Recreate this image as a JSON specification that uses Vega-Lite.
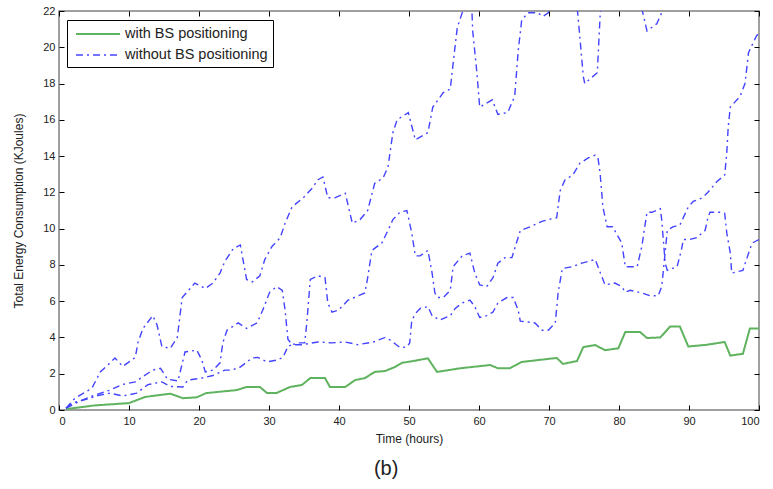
{
  "$schema": "https://vega.github.io/schema/vega-lite/v6.json",
  "width": 700,
  "height": 399,
  "autosize": {"type": "none"},
  "padding": {"left": 59, "top": 11, "right": 14, "bottom": 79},
  "background": "white",
  "config": {
    "view": {"stroke": "#808080", "strokeWidth": 1.5},
    "font": "Liberation Sans",
    "axis": {"grid": false, "domain": false, "tickColor": "#000", "tickSize": -5, "tickWidth": 1, "labelColor": "#222", "labelFontSize": 11, "titleColor": "#222", "titleFontWeight": "normal", "titleFontSize": 12}
  },
  "title": {"text": "(b)", "orient": "bottom", "fontSize": 20, "fontWeight": "normal", "color": "#222", "offset": 15, "frame": "bounds", "anchor": "middle"},
  "data": {"values": [
    {"t":1,"v":0.05,"s":"with BS positioning","r":"g"},
    {"t":5,"v":0.25,"s":"with BS positioning","r":"g"},
    {"t":10,"v":0.38,"s":"with BS positioning","r":"g"},
    {"t":12.3,"v":0.72,"s":"with BS positioning","r":"g"},
    {"t":15.9,"v":0.9,"s":"with BS positioning","r":"g"},
    {"t":17.7,"v":0.65,"s":"with BS positioning","r":"g"},
    {"t":19.7,"v":0.7,"s":"with BS positioning","r":"g"},
    {"t":21,"v":0.93,"s":"with BS positioning","r":"g"},
    {"t":25.4,"v":1.1,"s":"with BS positioning","r":"g"},
    {"t":26.8,"v":1.27,"s":"with BS positioning","r":"g"},
    {"t":28.7,"v":1.27,"s":"with BS positioning","r":"g"},
    {"t":29.7,"v":0.94,"s":"with BS positioning","r":"g"},
    {"t":31.1,"v":0.94,"s":"with BS positioning","r":"g"},
    {"t":33,"v":1.27,"s":"with BS positioning","r":"g"},
    {"t":34.7,"v":1.38,"s":"with BS positioning","r":"g"},
    {"t":35.9,"v":1.76,"s":"with BS positioning","r":"g"},
    {"t":38,"v":1.76,"s":"with BS positioning","r":"g"},
    {"t":38.7,"v":1.27,"s":"with BS positioning","r":"g"},
    {"t":40.9,"v":1.27,"s":"with BS positioning","r":"g"},
    {"t":42.3,"v":1.65,"s":"with BS positioning","r":"g"},
    {"t":43.7,"v":1.76,"s":"with BS positioning","r":"g"},
    {"t":45.1,"v":2.1,"s":"with BS positioning","r":"g"},
    {"t":46.6,"v":2.15,"s":"with BS positioning","r":"g"},
    {"t":48,"v":2.37,"s":"with BS positioning","r":"g"},
    {"t":49,"v":2.6,"s":"with BS positioning","r":"g"},
    {"t":50.6,"v":2.7,"s":"with BS positioning","r":"g"},
    {"t":52.7,"v":2.85,"s":"with BS positioning","r":"g"},
    {"t":54,"v":2.1,"s":"with BS positioning","r":"g"},
    {"t":57.3,"v":2.3,"s":"with BS positioning","r":"g"},
    {"t":61.6,"v":2.48,"s":"with BS positioning","r":"g"},
    {"t":62.7,"v":2.3,"s":"with BS positioning","r":"g"},
    {"t":64.4,"v":2.3,"s":"with BS positioning","r":"g"},
    {"t":66.1,"v":2.65,"s":"with BS positioning","r":"g"},
    {"t":71.1,"v":2.87,"s":"with BS positioning","r":"g"},
    {"t":72,"v":2.54,"s":"with BS positioning","r":"g"},
    {"t":74,"v":2.7,"s":"with BS positioning","r":"g"},
    {"t":74.9,"v":3.47,"s":"with BS positioning","r":"g"},
    {"t":76.6,"v":3.58,"s":"with BS positioning","r":"g"},
    {"t":78,"v":3.3,"s":"with BS positioning","r":"g"},
    {"t":79.9,"v":3.4,"s":"with BS positioning","r":"g"},
    {"t":80.9,"v":4.3,"s":"with BS positioning","r":"g"},
    {"t":83,"v":4.3,"s":"with BS positioning","r":"g"},
    {"t":84,"v":3.97,"s":"with BS positioning","r":"g"},
    {"t":85.9,"v":4.0,"s":"with BS positioning","r":"g"},
    {"t":87.3,"v":4.6,"s":"with BS positioning","r":"g"},
    {"t":88.7,"v":4.6,"s":"with BS positioning","r":"g"},
    {"t":89.9,"v":3.5,"s":"with BS positioning","r":"g"},
    {"t":92.6,"v":3.6,"s":"with BS positioning","r":"g"},
    {"t":95.1,"v":3.75,"s":"with BS positioning","r":"g"},
    {"t":95.9,"v":3.0,"s":"with BS positioning","r":"g"},
    {"t":97.7,"v":3.1,"s":"with BS positioning","r":"g"},
    {"t":98.7,"v":4.5,"s":"with BS positioning","r":"g"},
    {"t":100,"v":4.5,"s":"with BS positioning","r":"g"},

    {"t":1,"v":0.1,"s":"without BS positioning","r":"a"},
    {"t":2.3,"v":0.66,"s":"without BS positioning","r":"a"},
    {"t":4.7,"v":1.2,"s":"without BS positioning","r":"a"},
    {"t":5.1,"v":1.5,"s":"without BS positioning","r":"a"},
    {"t":5.9,"v":2.1,"s":"without BS positioning","r":"a"},
    {"t":7.3,"v":2.6,"s":"without BS positioning","r":"a"},
    {"t":8,"v":2.87,"s":"without BS positioning","r":"a"},
    {"t":9.1,"v":2.4,"s":"without BS positioning","r":"a"},
    {"t":10.9,"v":2.9,"s":"without BS positioning","r":"a"},
    {"t":11.3,"v":3.75,"s":"without BS positioning","r":"a"},
    {"t":12,"v":4.5,"s":"without BS positioning","r":"a"},
    {"t":13.4,"v":5.2,"s":"without BS positioning","r":"a"},
    {"t":14,"v":4.7,"s":"without BS positioning","r":"a"},
    {"t":14.7,"v":3.5,"s":"without BS positioning","r":"a"},
    {"t":15.9,"v":3.4,"s":"without BS positioning","r":"a"},
    {"t":16.9,"v":4.0,"s":"without BS positioning","r":"a"},
    {"t":17.6,"v":6.2,"s":"without BS positioning","r":"a"},
    {"t":19.4,"v":7.0,"s":"without BS positioning","r":"a"},
    {"t":20.9,"v":6.7,"s":"without BS positioning","r":"a"},
    {"t":22,"v":7.0,"s":"without BS positioning","r":"a"},
    {"t":23,"v":7.55,"s":"without BS positioning","r":"a"},
    {"t":23.7,"v":8.2,"s":"without BS positioning","r":"a"},
    {"t":24.9,"v":8.9,"s":"without BS positioning","r":"a"},
    {"t":25.9,"v":9.1,"s":"without BS positioning","r":"a"},
    {"t":26.8,"v":7.2,"s":"without BS positioning","r":"a"},
    {"t":27.6,"v":7.06,"s":"without BS positioning","r":"a"},
    {"t":28.7,"v":7.4,"s":"without BS positioning","r":"a"},
    {"t":29.4,"v":8.3,"s":"without BS positioning","r":"a"},
    {"t":30.4,"v":9.0,"s":"without BS positioning","r":"a"},
    {"t":31.6,"v":9.5,"s":"without BS positioning","r":"a"},
    {"t":32.3,"v":10.3,"s":"without BS positioning","r":"a"},
    {"t":33.3,"v":11.2,"s":"without BS positioning","r":"a"},
    {"t":34.9,"v":11.7,"s":"without BS positioning","r":"a"},
    {"t":36.1,"v":12.2,"s":"without BS positioning","r":"a"},
    {"t":37,"v":12.7,"s":"without BS positioning","r":"a"},
    {"t":37.7,"v":12.85,"s":"without BS positioning","r":"a"},
    {"t":38.4,"v":11.7,"s":"without BS positioning","r":"a"},
    {"t":39.4,"v":11.7,"s":"without BS positioning","r":"a"},
    {"t":40.9,"v":11.95,"s":"without BS positioning","r":"a"},
    {"t":41.9,"v":10.3,"s":"without BS positioning","r":"a"},
    {"t":43,"v":10.5,"s":"without BS positioning","r":"a"},
    {"t":44.1,"v":11,"s":"without BS positioning","r":"a"},
    {"t":45.1,"v":12.5,"s":"without BS positioning","r":"a"},
    {"t":46.3,"v":12.8,"s":"without BS positioning","r":"a"},
    {"t":47,"v":13.4,"s":"without BS positioning","r":"a"},
    {"t":47.7,"v":15.3,"s":"without BS positioning","r":"a"},
    {"t":48.3,"v":16,"s":"without BS positioning","r":"a"},
    {"t":49.9,"v":16.4,"s":"without BS positioning","r":"a"},
    {"t":50.9,"v":14.9,"s":"without BS positioning","r":"a"},
    {"t":52.7,"v":15.3,"s":"without BS positioning","r":"a"},
    {"t":53.4,"v":16.7,"s":"without BS positioning","r":"a"},
    {"t":54.9,"v":17.5,"s":"without BS positioning","r":"a"},
    {"t":55.9,"v":17.7,"s":"without BS positioning","r":"a"},
    {"t":56.3,"v":19.1,"s":"without BS positioning","r":"a"},
    {"t":56.9,"v":21.1,"s":"without BS positioning","r":"a"},
    {"t":57.6,"v":21.9,"s":"without BS positioning","r":"a"},
    {"t":58.3,"v":22.6,"s":"without BS positioning","r":"a"},
    {"t":59,"v":21.9,"s":"without BS positioning","r":"a"},
    {"t":59.1,"v":20.9,"s":"without BS positioning","r":"a"},
    {"t":59.7,"v":18.6,"s":"without BS positioning","r":"a"},
    {"t":60.1,"v":16.7,"s":"without BS positioning","r":"a"},
    {"t":61.9,"v":17.1,"s":"without BS positioning","r":"a"},
    {"t":62.7,"v":16.3,"s":"without BS positioning","r":"a"},
    {"t":64.1,"v":16.4,"s":"without BS positioning","r":"a"},
    {"t":65.1,"v":17.3,"s":"without BS positioning","r":"a"},
    {"t":65.6,"v":19.8,"s":"without BS positioning","r":"a"},
    {"t":66.1,"v":21.5,"s":"without BS positioning","r":"a"},
    {"t":67,"v":21.9,"s":"without BS positioning","r":"a"},
    {"t":68.4,"v":21.9,"s":"without BS positioning","r":"a"},
    {"t":69.1,"v":21.7,"s":"without BS positioning","r":"a"},
    {"t":69.9,"v":21.9,"s":"without BS positioning","r":"a"},
    {"t":70.5,"v":23.5,"s":"without BS positioning","r":"a"},
    {"t":72,"v":24.5,"s":"without BS positioning","r":"a"},
    {"t":73.5,"v":23.5,"s":"without BS positioning","r":"a"},
    {"t":74.1,"v":21.9,"s":"without BS positioning","r":"a"},
    {"t":74.9,"v":18.4,"s":"without BS positioning","r":"a"},
    {"t":75.1,"v":18,"s":"without BS positioning","r":"a"},
    {"t":76.9,"v":18.6,"s":"without BS positioning","r":"a"},
    {"t":77.3,"v":21.7,"s":"without BS positioning","r":"a"},
    {"t":77.8,"v":23,"s":"without BS positioning","r":"a"},
    {"t":80,"v":24,"s":"without BS positioning","r":"a"},
    {"t":82.8,"v":23,"s":"without BS positioning","r":"a"},
    {"t":83.4,"v":21.9,"s":"without BS positioning","r":"a"},
    {"t":84,"v":20.9,"s":"without BS positioning","r":"a"},
    {"t":85.4,"v":21.3,"s":"without BS positioning","r":"a"},
    {"t":86.1,"v":21.9,"s":"without BS positioning","r":"a"},
    {"t":86.6,"v":23,"s":"without BS positioning","r":"a"},
    {"t":90,"v":25,"s":"without BS positioning","r":"a"},
    {"t":95,"v":26,"s":"without BS positioning","r":"a"},
    {"t":100,"v":27,"s":"without BS positioning","r":"a"},

    {"t":1,"v":0.1,"s":"without BS positioning","r":"b"},
    {"t":3.3,"v":0.55,"s":"without BS positioning","r":"b"},
    {"t":5,"v":0.8,"s":"without BS positioning","r":"b"},
    {"t":7.3,"v":1.1,"s":"without BS positioning","r":"b"},
    {"t":9,"v":1.4,"s":"without BS positioning","r":"b"},
    {"t":10.9,"v":1.55,"s":"without BS positioning","r":"b"},
    {"t":12.6,"v":2.0,"s":"without BS positioning","r":"b"},
    {"t":13.4,"v":2.2,"s":"without BS positioning","r":"b"},
    {"t":14.5,"v":2.3,"s":"without BS positioning","r":"b"},
    {"t":15.5,"v":1.7,"s":"without BS positioning","r":"b"},
    {"t":17,"v":1.6,"s":"without BS positioning","r":"b"},
    {"t":18,"v":3.2,"s":"without BS positioning","r":"b"},
    {"t":19.7,"v":3.3,"s":"without BS positioning","r":"b"},
    {"t":20.4,"v":2.75,"s":"without BS positioning","r":"b"},
    {"t":20.9,"v":2.1,"s":"without BS positioning","r":"b"},
    {"t":22,"v":2.2,"s":"without BS positioning","r":"b"},
    {"t":23,"v":2.6,"s":"without BS positioning","r":"b"},
    {"t":23.4,"v":3.7,"s":"without BS positioning","r":"b"},
    {"t":24,"v":4.4,"s":"without BS positioning","r":"b"},
    {"t":25.6,"v":4.8,"s":"without BS positioning","r":"b"},
    {"t":26.8,"v":4.5,"s":"without BS positioning","r":"b"},
    {"t":28.3,"v":4.8,"s":"without BS positioning","r":"b"},
    {"t":29.1,"v":5.5,"s":"without BS positioning","r":"b"},
    {"t":30.1,"v":6.5,"s":"without BS positioning","r":"b"},
    {"t":31.1,"v":6.8,"s":"without BS positioning","r":"b"},
    {"t":31.9,"v":6.6,"s":"without BS positioning","r":"b"},
    {"t":32.3,"v":5.5,"s":"without BS positioning","r":"b"},
    {"t":32.7,"v":3.9,"s":"without BS positioning","r":"b"},
    {"t":33.3,"v":3.6,"s":"without BS positioning","r":"b"},
    {"t":34.1,"v":3.7,"s":"without BS positioning","r":"b"},
    {"t":35.1,"v":3.7,"s":"without BS positioning","r":"b"},
    {"t":35.4,"v":4.8,"s":"without BS positioning","r":"b"},
    {"t":35.9,"v":7.2,"s":"without BS positioning","r":"b"},
    {"t":37,"v":7.4,"s":"without BS positioning","r":"b"},
    {"t":38,"v":7.3,"s":"without BS positioning","r":"b"},
    {"t":38.4,"v":5.9,"s":"without BS positioning","r":"b"},
    {"t":39,"v":5.4,"s":"without BS positioning","r":"b"},
    {"t":39.9,"v":5.5,"s":"without BS positioning","r":"b"},
    {"t":41.3,"v":6.06,"s":"without BS positioning","r":"b"},
    {"t":43.7,"v":6.45,"s":"without BS positioning","r":"b"},
    {"t":44.1,"v":7.3,"s":"without BS positioning","r":"b"},
    {"t":44.7,"v":8.8,"s":"without BS positioning","r":"b"},
    {"t":46.1,"v":9.2,"s":"without BS positioning","r":"b"},
    {"t":47,"v":9.9,"s":"without BS positioning","r":"b"},
    {"t":47.7,"v":10.5,"s":"without BS positioning","r":"b"},
    {"t":48.7,"v":10.9,"s":"without BS positioning","r":"b"},
    {"t":49.7,"v":11.0,"s":"without BS positioning","r":"b"},
    {"t":50.4,"v":9.75,"s":"without BS positioning","r":"b"},
    {"t":50.9,"v":8.5,"s":"without BS positioning","r":"b"},
    {"t":51.6,"v":8.5,"s":"without BS positioning","r":"b"},
    {"t":52.7,"v":8.8,"s":"without BS positioning","r":"b"},
    {"t":53.3,"v":7.55,"s":"without BS positioning","r":"b"},
    {"t":53.7,"v":6.45,"s":"without BS positioning","r":"b"},
    {"t":54.1,"v":6.2,"s":"without BS positioning","r":"b"},
    {"t":54.9,"v":6.2,"s":"without BS positioning","r":"b"},
    {"t":55.9,"v":6.6,"s":"without BS positioning","r":"b"},
    {"t":56.3,"v":7.9,"s":"without BS positioning","r":"b"},
    {"t":57.6,"v":8.5,"s":"without BS positioning","r":"b"},
    {"t":58.7,"v":8.65,"s":"without BS positioning","r":"b"},
    {"t":59.4,"v":7.55,"s":"without BS positioning","r":"b"},
    {"t":60.1,"v":6.9,"s":"without BS positioning","r":"b"},
    {"t":61.1,"v":6.8,"s":"without BS positioning","r":"b"},
    {"t":62,"v":7.3,"s":"without BS positioning","r":"b"},
    {"t":62.7,"v":8.1,"s":"without BS positioning","r":"b"},
    {"t":63.7,"v":8.4,"s":"without BS positioning","r":"b"},
    {"t":64.7,"v":8.4,"s":"without BS positioning","r":"b"},
    {"t":65.1,"v":8.9,"s":"without BS positioning","r":"b"},
    {"t":65.9,"v":9.9,"s":"without BS positioning","r":"b"},
    {"t":67.3,"v":10.1,"s":"without BS positioning","r":"b"},
    {"t":69,"v":10.4,"s":"without BS positioning","r":"b"},
    {"t":69.9,"v":10.5,"s":"without BS positioning","r":"b"},
    {"t":71.1,"v":10.6,"s":"without BS positioning","r":"b"},
    {"t":71.6,"v":12.1,"s":"without BS positioning","r":"b"},
    {"t":72.3,"v":12.7,"s":"without BS positioning","r":"b"},
    {"t":73.4,"v":12.95,"s":"without BS positioning","r":"b"},
    {"t":74.4,"v":13.6,"s":"without BS positioning","r":"b"},
    {"t":75.6,"v":13.9,"s":"without BS positioning","r":"b"},
    {"t":76.6,"v":14.05,"s":"without BS positioning","r":"b"},
    {"t":77,"v":13.9,"s":"without BS positioning","r":"b"},
    {"t":77.3,"v":13.05,"s":"without BS positioning","r":"b"},
    {"t":77.7,"v":11.2,"s":"without BS positioning","r":"b"},
    {"t":78.3,"v":10.1,"s":"without BS positioning","r":"b"},
    {"t":79.1,"v":10.1,"s":"without BS positioning","r":"b"},
    {"t":80.4,"v":9.2,"s":"without BS positioning","r":"b"},
    {"t":80.9,"v":7.9,"s":"without BS positioning","r":"b"},
    {"t":82.6,"v":7.9,"s":"without BS positioning","r":"b"},
    {"t":83.3,"v":9.1,"s":"without BS positioning","r":"b"},
    {"t":83.6,"v":9.9,"s":"without BS positioning","r":"b"},
    {"t":84,"v":10.9,"s":"without BS positioning","r":"b"},
    {"t":84.7,"v":10.9,"s":"without BS positioning","r":"b"},
    {"t":85.9,"v":11.1,"s":"without BS positioning","r":"b"},
    {"t":86.1,"v":10.5,"s":"without BS positioning","r":"b"},
    {"t":86.6,"v":8.1,"s":"without BS positioning","r":"b"},
    {"t":86.9,"v":7.7,"s":"without BS positioning","r":"b"},
    {"t":88.3,"v":7.9,"s":"without BS positioning","r":"b"},
    {"t":88.9,"v":8.8,"s":"without BS positioning","r":"b"},
    {"t":89.2,"v":9.4,"s":"without BS positioning","r":"b"},
    {"t":90.1,"v":9.4,"s":"without BS positioning","r":"b"},
    {"t":91.1,"v":9.5,"s":"without BS positioning","r":"b"},
    {"t":92.3,"v":9.9,"s":"without BS positioning","r":"b"},
    {"t":92.7,"v":10.6,"s":"without BS positioning","r":"b"},
    {"t":93,"v":10.9,"s":"without BS positioning","r":"b"},
    {"t":94.4,"v":10.9,"s":"without BS positioning","r":"b"},
    {"t":95.1,"v":10.85,"s":"without BS positioning","r":"b"},
    {"t":95.4,"v":9.75,"s":"without BS positioning","r":"b"},
    {"t":95.9,"v":8.65,"s":"without BS positioning","r":"b"},
    {"t":96.1,"v":7.55,"s":"without BS positioning","r":"b"},
    {"t":97.7,"v":7.7,"s":"without BS positioning","r":"b"},
    {"t":98.3,"v":8.4,"s":"without BS positioning","r":"b"},
    {"t":99,"v":9.2,"s":"without BS positioning","r":"b"},
    {"t":100,"v":9.4,"s":"without BS positioning","r":"b"},

    {"t":1,"v":0.1,"s":"without BS positioning","r":"c"},
    {"t":2,"v":0.4,"s":"without BS positioning","r":"c"},
    {"t":4,"v":0.6,"s":"without BS positioning","r":"c"},
    {"t":5.6,"v":0.8,"s":"without BS positioning","r":"c"},
    {"t":7.3,"v":0.93,"s":"without BS positioning","r":"c"},
    {"t":9.1,"v":0.77,"s":"without BS positioning","r":"c"},
    {"t":11.1,"v":0.93,"s":"without BS positioning","r":"c"},
    {"t":12.7,"v":1.4,"s":"without BS positioning","r":"c"},
    {"t":14.7,"v":1.55,"s":"without BS positioning","r":"c"},
    {"t":15.9,"v":1.3,"s":"without BS positioning","r":"c"},
    {"t":17.7,"v":1.27,"s":"without BS positioning","r":"c"},
    {"t":18.4,"v":1.65,"s":"without BS positioning","r":"c"},
    {"t":20.4,"v":1.76,"s":"without BS positioning","r":"c"},
    {"t":22,"v":1.9,"s":"without BS positioning","r":"c"},
    {"t":23.7,"v":2.2,"s":"without BS positioning","r":"c"},
    {"t":24.7,"v":2.2,"s":"without BS positioning","r":"c"},
    {"t":25.9,"v":2.37,"s":"without BS positioning","r":"c"},
    {"t":27.6,"v":2.87,"s":"without BS positioning","r":"c"},
    {"t":28.4,"v":2.9,"s":"without BS positioning","r":"c"},
    {"t":29.7,"v":2.65,"s":"without BS positioning","r":"c"},
    {"t":31.1,"v":2.75,"s":"without BS positioning","r":"c"},
    {"t":32,"v":2.9,"s":"without BS positioning","r":"c"},
    {"t":32.7,"v":3.5,"s":"without BS positioning","r":"c"},
    {"t":33.3,"v":3.6,"s":"without BS positioning","r":"c"},
    {"t":34.7,"v":3.6,"s":"without BS positioning","r":"c"},
    {"t":37,"v":3.75,"s":"without BS positioning","r":"c"},
    {"t":39,"v":3.7,"s":"without BS positioning","r":"c"},
    {"t":40.9,"v":3.75,"s":"without BS positioning","r":"c"},
    {"t":42.7,"v":3.6,"s":"without BS positioning","r":"c"},
    {"t":44.9,"v":3.75,"s":"without BS positioning","r":"c"},
    {"t":46.6,"v":4.0,"s":"without BS positioning","r":"c"},
    {"t":47.3,"v":3.86,"s":"without BS positioning","r":"c"},
    {"t":48.7,"v":3.45,"s":"without BS positioning","r":"c"},
    {"t":49.7,"v":3.47,"s":"without BS positioning","r":"c"},
    {"t":50.1,"v":3.7,"s":"without BS positioning","r":"c"},
    {"t":50.4,"v":4.96,"s":"without BS positioning","r":"c"},
    {"t":51.1,"v":5.4,"s":"without BS positioning","r":"c"},
    {"t":51.6,"v":5.6,"s":"without BS positioning","r":"c"},
    {"t":52.7,"v":5.7,"s":"without BS positioning","r":"c"},
    {"t":53.3,"v":5.2,"s":"without BS positioning","r":"c"},
    {"t":54.4,"v":4.96,"s":"without BS positioning","r":"c"},
    {"t":55.9,"v":5.2,"s":"without BS positioning","r":"c"},
    {"t":56.6,"v":5.6,"s":"without BS positioning","r":"c"},
    {"t":57.6,"v":5.9,"s":"without BS positioning","r":"c"},
    {"t":58.7,"v":6.06,"s":"without BS positioning","r":"c"},
    {"t":59.4,"v":5.7,"s":"without BS positioning","r":"c"},
    {"t":60.1,"v":5.1,"s":"without BS positioning","r":"c"},
    {"t":61.1,"v":5.2,"s":"without BS positioning","r":"c"},
    {"t":62,"v":5.4,"s":"without BS positioning","r":"c"},
    {"t":62.7,"v":5.9,"s":"without BS positioning","r":"c"},
    {"t":64,"v":6.2,"s":"without BS positioning","r":"c"},
    {"t":64.9,"v":6.2,"s":"without BS positioning","r":"c"},
    {"t":65.6,"v":5.5,"s":"without BS positioning","r":"c"},
    {"t":65.9,"v":4.9,"s":"without BS positioning","r":"c"},
    {"t":68,"v":4.8,"s":"without BS positioning","r":"c"},
    {"t":69,"v":4.4,"s":"without BS positioning","r":"c"},
    {"t":69.9,"v":4.4,"s":"without BS positioning","r":"c"},
    {"t":70.9,"v":4.8,"s":"without BS positioning","r":"c"},
    {"t":71.3,"v":6.45,"s":"without BS positioning","r":"c"},
    {"t":71.9,"v":7.8,"s":"without BS positioning","r":"c"},
    {"t":73.3,"v":7.9,"s":"without BS positioning","r":"c"},
    {"t":74.7,"v":8.1,"s":"without BS positioning","r":"c"},
    {"t":76.6,"v":8.3,"s":"without BS positioning","r":"c"},
    {"t":77,"v":7.9,"s":"without BS positioning","r":"c"},
    {"t":77.6,"v":7.3,"s":"without BS positioning","r":"c"},
    {"t":78,"v":6.9,"s":"without BS positioning","r":"c"},
    {"t":79.4,"v":7.0,"s":"without BS positioning","r":"c"},
    {"t":80.4,"v":6.8,"s":"without BS positioning","r":"c"},
    {"t":80.9,"v":6.5,"s":"without BS positioning","r":"c"},
    {"t":81.6,"v":6.6,"s":"without BS positioning","r":"c"},
    {"t":83.3,"v":6.45,"s":"without BS positioning","r":"c"},
    {"t":84.4,"v":6.3,"s":"without BS positioning","r":"c"},
    {"t":85.6,"v":6.3,"s":"without BS positioning","r":"c"},
    {"t":86.1,"v":6.8,"s":"without BS positioning","r":"c"},
    {"t":86.3,"v":7.55,"s":"without BS positioning","r":"c"},
    {"t":86.9,"v":9.9,"s":"without BS positioning","r":"c"},
    {"t":87.7,"v":10.1,"s":"without BS positioning","r":"c"},
    {"t":88.7,"v":10.2,"s":"without BS positioning","r":"c"},
    {"t":89.9,"v":11.2,"s":"without BS positioning","r":"c"},
    {"t":90.6,"v":11.5,"s":"without BS positioning","r":"c"},
    {"t":91.9,"v":11.7,"s":"without BS positioning","r":"c"},
    {"t":92.7,"v":12.0,"s":"without BS positioning","r":"c"},
    {"t":94,"v":12.6,"s":"without BS positioning","r":"c"},
    {"t":95.1,"v":12.95,"s":"without BS positioning","r":"c"},
    {"t":95.4,"v":14.2,"s":"without BS positioning","r":"c"},
    {"t":95.6,"v":15.6,"s":"without BS positioning","r":"c"},
    {"t":95.9,"v":16.7,"s":"without BS positioning","r":"c"},
    {"t":97.3,"v":17.3,"s":"without BS positioning","r":"c"},
    {"t":98,"v":18,"s":"without BS positioning","r":"c"},
    {"t":98.5,"v":19.7,"s":"without BS positioning","r":"c"},
    {"t":99.6,"v":20.6,"s":"without BS positioning","r":"c"},
    {"t":100,"v":20.8,"s":"without BS positioning","r":"c"}
  ]},
  "layer": [
    {
      "mark": {"type": "line", "clip": true},
      "encoding": {
        "x": {"field": "t", "type": "quantitative", "scale": {"domain": [0, 100], "nice": false},
              "axis": {"orient": "bottom", "values": [0,10,20,30,40,50,60,70,80,90,100], "labelPadding": 10, "title": "Time (hours)", "titlePadding": 7}},
        "y": {"field": "v", "type": "quantitative", "scale": {"domain": [0, 22], "nice": false},
              "axis": {"orient": "left", "values": [0,2,4,6,8,10,12,14,16,18,20,22], "labelPadding": 9, "title": "Total Energy Consumption (KJoules)", "titlePadding": 17}},
        "color": {"field": "s", "type": "nominal",
                  "scale": {"domain": ["with BS positioning", "without BS positioning"], "range": ["#5fb35f", "#4444ff"]},
                  "legend": {"orient": "none", "legendX": 8, "legendY": 9, "title": null, "strokeColor": "#000", "fillColor": "#fff", "padding": 5, "symbolType": "M-0.625,0H4.875", "symbolSize": 256, "labelOffset": 35, "labelFontSize": 14.5, "labelColor": "#222", "rowPadding": 5, "symbolStrokeWidth": 1.6}},
        "strokeDash": {"field": "s", "type": "nominal",
                  "scale": {"domain": ["with BS positioning", "without BS positioning"], "range": [[1, 0], [7, 4, 2, 4]]},
                  "legend": {"orient": "none", "legendX": 8, "legendY": 9, "title": null, "strokeColor": "#000", "fillColor": "#fff", "padding": 5, "symbolType": "M-0.625,0H4.875", "symbolSize": 256, "labelOffset": 35, "labelFontSize": 14.5, "labelColor": "#222", "rowPadding": 5, "symbolStrokeWidth": 1.6}},
        "strokeWidth": {"field": "s", "type": "nominal",
                  "scale": {"domain": ["with BS positioning", "without BS positioning"], "range": [2, 1.4]}, "legend": null},
        "detail": {"field": "r", "type": "nominal"}
      }
    },
    {
      "mark": {"type": "line", "opacity": 0},
      "encoding": {
        "x": {"field": "t", "type": "quantitative", "axis": {"orient": "top", "values": [0,10,20,30,40,50,60,70,80,90,100], "labels": false, "title": null}},
        "y": {"field": "v", "type": "quantitative", "axis": {"orient": "right", "values": [0,2,4,6,8,10,12,14,16,18,20,22], "labels": false, "title": null}},
        "detail": {"field": "r", "type": "nominal"}
      }
    }
  ],
  "resolve": {"axis": {"x": "independent", "y": "independent"}}
}
